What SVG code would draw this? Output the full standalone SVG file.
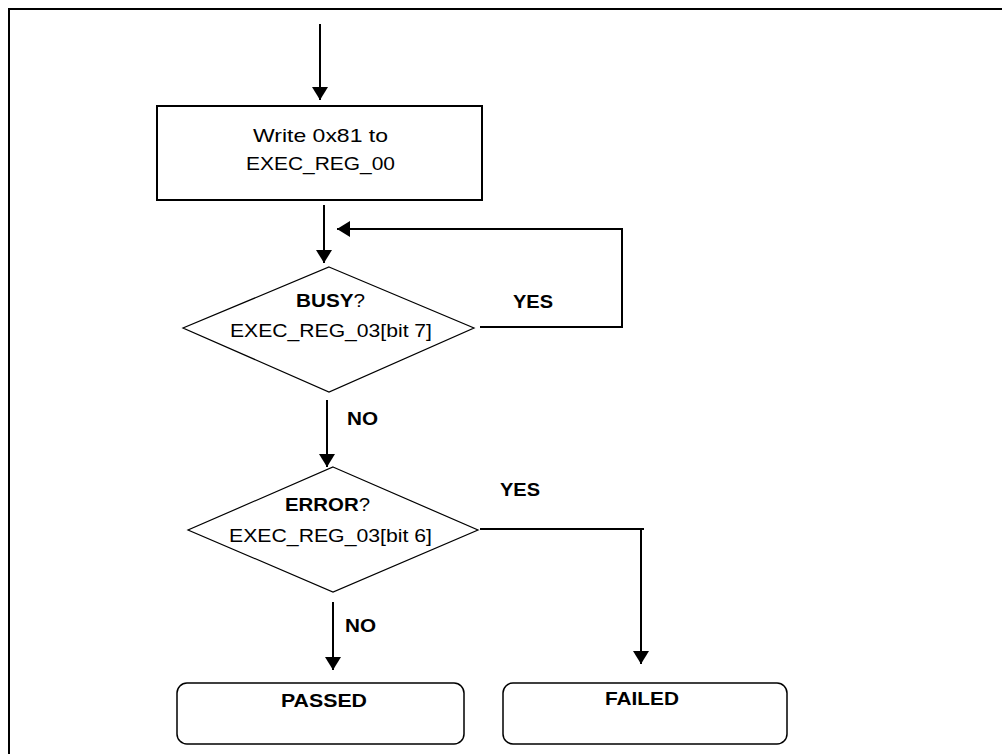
<svg xmlns="http://www.w3.org/2000/svg" width="1002" height="754" viewBox="0 0 1002 754">
<style>
text{font-family:"Liberation Sans",Arial,sans-serif;font-size:19px;fill:#000}
.b{font-weight:bold}
.c{stroke:#000;stroke-width:2;fill:none}
.n{stroke:#000;fill:#fff}
</style>
<defs>
<marker id="ah" markerUnits="userSpaceOnUse" markerWidth="14" markerHeight="16" refX="13" refY="8" orient="auto">
<path d="M0,0 L13,8 L0,16 z" fill="#000"/>
</marker>
</defs>
<rect width="1002" height="754" fill="#fff"/>
<path d="M9,754 V9 H1002" stroke="#000" stroke-width="2" fill="none"/>
<g id="connectors">
<line class="c" x1="320" y1="24" x2="320" y2="100" marker-end="url(#ah)"/>
<line class="c" x1="324" y1="205" x2="324" y2="263" marker-end="url(#ah)"/>
<polyline class="c" points="480,327 622,327 622,229 337,229" marker-end="url(#ah)"/>
<line class="c" x1="327" y1="400" x2="327" y2="467" marker-end="url(#ah)"/>
<line class="c" x1="333" y1="602" x2="333" y2="670" marker-end="url(#ah)"/>
<polyline class="c" points="480,529 644,529"/>
<line class="c" x1="641" y1="529" x2="641" y2="664" marker-end="url(#ah)"/>
<text class="b" x="513" y="308" textLength="40" lengthAdjust="spacingAndGlyphs">YES</text>
<text class="b" x="347" y="425" textLength="31" lengthAdjust="spacingAndGlyphs">NO</text>
<text class="b" x="500" y="496" textLength="40" lengthAdjust="spacingAndGlyphs">YES</text>
<text class="b" x="345" y="632" textLength="31" lengthAdjust="spacingAndGlyphs">NO</text>
</g>
<g id="write">
<rect class="n" x="157" y="106" width="325" height="94" stroke-width="2"/>
<text x="253" y="142" textLength="135" lengthAdjust="spacingAndGlyphs">Write 0x81 to</text>
<text x="246" y="170" textLength="149" lengthAdjust="spacingAndGlyphs">EXEC_REG_00</text>
</g>
<g id="busy">
<polygon class="n" points="329,267 474,328 329,392 183,328" stroke-width="1.2"/>
<text x="296" y="307" textLength="69" lengthAdjust="spacingAndGlyphs"><tspan class="b">BUSY</tspan>?</text>
<text x="230" y="337" textLength="202" lengthAdjust="spacingAndGlyphs">EXEC_REG_03[bit 7]</text>
</g>
<g id="error">
<polygon class="n" points="333,467 478,530 333,592 188,530" stroke-width="1.2"/>
<text x="285" y="511" textLength="85" lengthAdjust="spacingAndGlyphs"><tspan class="b">ERROR</tspan>?</text>
<text x="229" y="542" textLength="203" lengthAdjust="spacingAndGlyphs">EXEC_REG_03[bit 6]</text>
</g>
<g id="passed">
<rect class="n" x="177" y="683" width="287" height="61" rx="10" stroke-width="1.5"/>
<text class="b" x="281" y="707" textLength="86" lengthAdjust="spacingAndGlyphs">PASSED</text>
</g>
<g id="failed">
<rect class="n" x="503" y="683" width="284" height="61" rx="10" stroke-width="1.5"/>
<text class="b" x="605" y="705" textLength="74" lengthAdjust="spacingAndGlyphs">FAILED</text>
</g>
</svg>
